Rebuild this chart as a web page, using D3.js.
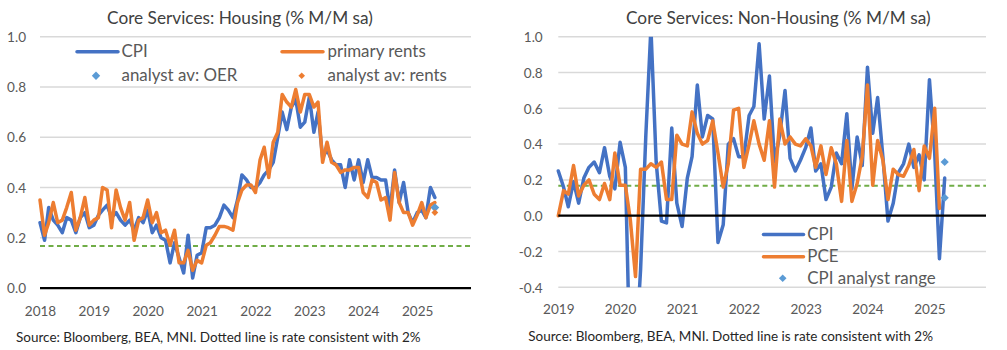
<!DOCTYPE html>
<html><head><meta charset="utf-8">
<script src="https://cdn.jsdelivr.net/npm/d3@7"></script>
<style>body{margin:0;background:#fff}svg{display:block}</style>
</head><body><svg id="c" width="1007" height="350"></svg>
<script>
// ---------- DATA ----------
const housingStart = "2018-01";
const housingCPI = [
  0.26,0.19,0.32,0.27,0.25,0.22,0.28,0.27,0.22,0.28,0.30,0.24,
  0.25,0.29,0.31,0.33,0.28,0.30,0.27,0.25,0.27,0.23,0.28,0.26,
  0.31,0.22,0.25,0.20,0.19,0.10,0.18,0.12,0.06,0.21,0.04,0.13,
  0.14,0.24,0.24,0.25,0.28,0.33,0.31,0.28,0.35,0.45,0.43,0.40,
  0.40,0.42,0.45,0.47,0.50,0.60,0.70,0.63,0.72,0.75,0.64,0.66,
  0.76,0.62,0.70,0.52,0.55,0.51,0.49,0.49,0.40,0.51,0.43,0.51,
  0.42,0.51,0.44,0.44,0.43,0.43,0.31,0.47,0.34,0.42,0.30,0.26,
  0.30,0.31,0.28,0.40,0.36];
const housingRents = [
  0.35,0.21,0.26,0.34,0.26,0.27,0.32,0.38,0.23,0.28,0.36,0.25,
  0.27,0.28,0.40,0.39,0.24,0.39,0.32,0.27,0.34,0.19,0.27,0.28,
  0.35,0.26,0.30,0.22,0.23,0.17,0.23,0.10,0.10,0.15,0.07,0.11,
  0.10,0.17,0.18,0.21,0.245,0.245,0.24,0.23,0.34,0.39,0.41,0.41,
  0.38,0.51,0.56,0.44,0.58,0.62,0.77,0.74,0.72,0.79,0.70,0.77,
  0.77,0.72,0.74,0.50,0.58,0.50,0.49,0.46,0.47,0.47,0.48,0.48,
  0.38,0.36,0.43,0.42,0.35,0.36,0.27,0.46,0.34,0.30,0.30,0.25,
  0.29,0.34,0.28,0.33,0.34];
const housingAnalystMonth = "2025-05";
const analystOER = [0.32];
const analystRents = [0.30];

const nonHousingStart = "2019-01";
const nonHousingCPI = [
  0.25,0.16,0.05,0.19,0.07,0.21,0.27,0.30,0.24,0.38,0.22,0.15,
  0.41,0.27,-0.90,-0.80,-0.30,0.45,1.05,0.30,-0.03,-0.04,0.49,0.07,
  -0.06,0.21,0.33,0.73,0.44,0.56,0.54,-0.15,-0.05,0.40,0.43,0.33,
  0.33,0.56,0.61,0.96,0.54,0.78,0.30,0.45,0.70,0.32,0.25,0.31,
  0.38,0.49,0.25,0.29,0.09,0.16,0.35,0.29,0.57,0.15,0.44,0.28,
  0.83,0.46,0.66,0.33,-0.03,0.07,0.24,0.29,0.40,0.27,0.34,0.20,
  0.76,0.35,-0.24,0.21];
const nonHousingPCE = [
  0.00,0.14,0.12,0.28,0.11,0.17,0.20,0.12,0.09,0.18,0.09,0.35,
  0.17,0.17,-0.02,-0.34,0.26,0.26,0.29,0.27,0.30,0.09,0.09,0.45,
  0.40,0.39,0.58,0.46,0.40,0.42,0.53,0.35,0.16,0.29,0.59,0.60,
  0.27,0.40,0.53,0.40,0.31,0.53,0.16,0.54,0.40,0.44,0.40,0.39,
  0.43,0.39,0.27,0.39,0.23,0.38,0.29,0.08,0.42,0.08,0.18,0.33,
  0.73,0.17,0.42,0.31,0.09,0.26,0.23,0.22,0.28,0.37,0.14,0.39,
  0.32,0.60,0.04];
const nonHousingAnalystMonth = "2025-04";
const analystRangeCPI = [0.30, 0.10];

const targetRate = 0.1667; // rate consistent with 2%
const housingYTicks = [0, 0.2, 0.4, 0.6, 0.8, 1.0];
const housingYLabels = ["0.0","0.2","0.4","0.6","0.8","1.0"];
const nonHousingYTicks = [-0.4,-0.2,0,0.2,0.4,0.6,0.8,1.0];
const nonHousingYLabels = ["-0.4","-0.2","0.0","0.2","0.4","0.6","0.8","1.0"];
const housingYears = [2018,2019,2020,2021,2022,2023,2024,2025];
const nonHousingYears = [2019,2020,2021,2022,2023,2024,2025];

const titleHousing = "Core Services: Housing (% M/M sa)";
const titleNonHousing = "Core Services: Non-Housing (% M/M sa)";
const sourceText = "Source: Bloomberg, BEA, MNI. Dotted line is rate consistent with 2%";

// ---------- HELPERS ----------
const svg = d3.select("#c");
svg.append("rect").attr("width",1007).attr("height",350).attr("fill","#fff");
const FONT = "Lato, 'Open Sans', sans-serif";
const BLUE = "#4472C4", ORANGE = "#ED7D31", LBLUE = "#5B9BD5", GREEN = "#70AD47";
const parseM = d3.timeParse("%Y-%m");
function monthSeries(start, vals){
  const s = parseM(start);
  return vals.map((v,i)=>({date:d3.timeMonth.offset(s,i), v}));
}
function sizeFor(str, target, base=16){
  const t = svg.append("text").attr("font-family",FONT).attr("font-size",base).text(str);
  const w = t.node().getComputedTextLength(); t.remove();
  return base*target/w;
}
const diamond = r => `M0,${-r}L${r},0L0,${r}L${-r},0Z`;
const titleSize = sizeFor(titleHousing, 266);
const tickSize = sizeFor("2018", 31.5);
const legendSize = sizeFor("analyst av: OER", 116);
const sourceSize = sizeFor(sourceText, 405);

function panel(cfg){
  const g = svg.append("g");
  const x = d3.scaleTime().domain(cfg.xDomain).range([cfg.x0, cfg.x1]);
  const y = d3.scaleLinear().domain(cfg.yDomain).range([cfg.yBottom, cfg.yTop]);

  // gridlines
  g.append("g").selectAll("line").data(cfg.yTicks.filter(d=>d!==0)).join("line")
    .attr("x1",cfg.x0).attr("x2",cfg.x1).attr("y1",d=>y(d)).attr("y2",d=>y(d))
    .attr("stroke","#d9d9d9").attr("stroke-width",1.5);

  // y axis
  const ya = g.append("g").attr("transform",`translate(${cfg.x0},0)`)
    .call(d3.axisLeft(y).tickValues(cfg.yTicks).tickFormat((d,i)=>cfg.yLabels[i]).tickSize(0).tickPadding(cfg.yPad));
  ya.select(".domain").remove();
  ya.selectAll("text").attr("font-family",FONT).attr("font-size",tickSize).attr("fill","#595959").attr("dy","0.35em");

  // x axis labels
  const xa = g.append("g").attr("transform",`translate(0,${y(0)})`)
    .call(d3.axisBottom(x).tickValues(cfg.years.map(yr=>new Date(yr,0,1))).tickFormat(d3.timeFormat("%Y")).tickSize(0));
  xa.select(".domain").remove();
  xa.selectAll("text").attr("font-family",FONT).attr("font-size",tickSize).attr("fill","#595959")
    .attr("y", cfg.xLabelBase - y(0)).attr("dy",0);

  // target dashed line
  g.append("line").attr("x1",cfg.x0).attr("x2",cfg.x1).attr("y1",y(targetRate)).attr("y2",y(targetRate))
    .attr("stroke",GREEN).attr("stroke-width",2).attr("stroke-dasharray","5,3.5");

  // clip
  const cid = "clip"+cfg.id;
  svg.append("clipPath").attr("id",cid).append("rect")
    .attr("x",cfg.x0-5).attr("y",cfg.yTop).attr("width",cfg.x1-cfg.x0+10).attr("height",cfg.yBottom-cfg.yTop);
  const line = d3.line().x(d=>x(d.date)).y(d=>y(d.v));
  const lg = g.append("g").attr("clip-path",`url(#${cid})`);
  cfg.series.forEach(s=>{
    lg.append("path").datum(s.data).attr("d",line).attr("fill","none").attr("stroke",s.color)
      .attr("stroke-width",3.5).attr("stroke-linejoin","round").attr("stroke-linecap","round");
  });

  // zero line
  g.append("line").attr("x1",cfg.x0).attr("x2",cfg.x1).attr("y1",y(0)).attr("y2",y(0))
    .attr("stroke","#000").attr("stroke-width",2.25);

  // markers
  cfg.markers.forEach(m=>{
    g.append("g").selectAll("path").data(m.data).join("path")
      .attr("d",diamond(m.r)).attr("fill",m.color)
      .attr("transform",d=>`translate(${x(d.date)},${y(d.v)})`);
  });

  // title
  g.append("text").attr("x",cfg.titleX).attr("y",24).attr("text-anchor","middle")
    .attr("font-family",FONT).attr("font-size",titleSize).attr("fill","#404040").text(cfg.title);
  // source
  g.append("text").attr("x",cfg.sourceX).attr("y",cfg.sourceY)
    .attr("font-family",FONT).attr("font-size",sourceSize).attr("fill","#262626").text(sourceText);

  // legend
  const leg = g.append("g");
  cfg.legend.forEach(it=>{
    if(it.type==="line"){
      leg.append("line").attr("x1",it.lx0).attr("x2",it.lx1).attr("y1",it.cy).attr("y2",it.cy)
        .attr("stroke",it.color).attr("stroke-width",3.5).attr("stroke-linecap","round");
    } else {
      leg.append("path").attr("d",diamond(it.r)).attr("fill",it.color)
        .attr("transform",`translate(${it.mx},${it.cy})`);
    }
    leg.append("text").attr("x",it.tx).attr("y",it.cy+5.6).attr("font-family",FONT)
      .attr("font-size",legendSize).attr("fill","#595959").text(it.label);
  });
}

// ---------- LEFT PANEL ----------
const hA = parseM(housingAnalystMonth);
panel({
  id:"L", x0:40, x1:471, yTop:36.7, yBottom:288, yPad:14, xLabelBase:316,
  xDomain:[new Date(2018,0,1), new Date(2026,0,1)], yDomain:[0,1],
  yTicks:housingYTicks, yLabels:housingYLabels, years:housingYears,
  title:titleHousing, titleX:240, sourceX:16, sourceY:342,
  series:[{data:monthSeries(housingStart,housingCPI),color:BLUE},
          {data:monthSeries(housingStart,housingRents),color:ORANGE}],
  markers:[{data:analystOER.map(v=>({date:hA,v})),color:LBLUE,r:4.4},
           {data:analystRents.map(v=>({date:hA,v})),color:ORANGE,r:3.4}],
  legend:[
    {type:"line",label:"CPI",color:BLUE,lx0:77,lx1:118,cy:51.7,tx:121.5},
    {type:"line",label:"primary rents",color:ORANGE,lx0:282,lx1:323,cy:51.7,tx:327.5},
    {type:"marker",label:"analyst av: OER",color:LBLUE,r:4.2,mx:96,cy:75.7,tx:121.5},
    {type:"marker",label:"analyst av: rents",color:ORANGE,r:3.3,mx:301.7,cy:75.7,tx:327.5}
  ]
});

// ---------- RIGHT PANEL ----------
const nA = parseM(nonHousingAnalystMonth);
panel({
  id:"R", x0:558.3, x1:986, yTop:36.7, yBottom:287.3, yPad:15.6, xLabelBase:314.3,
  xDomain:[new Date(2019,0,1), new Date(2025,11,1)], yDomain:[-0.4,1.0],
  yTicks:nonHousingYTicks, yLabels:nonHousingYLabels, years:nonHousingYears,
  title:titleNonHousing, titleX:778.3, sourceX:528.3, sourceY:341.3,
  series:[{data:monthSeries(nonHousingStart,nonHousingCPI),color:BLUE},
          {data:monthSeries(nonHousingStart,nonHousingPCE),color:ORANGE}],
  markers:[{data:analystRangeCPI.map(v=>({date:nA,v})),color:LBLUE,r:4.1}],
  legend:[
    {type:"line",label:"CPI",color:BLUE,lx0:763.5,lx1:803.5,cy:234.5,tx:807.3},
    {type:"line",label:"PCE",color:ORANGE,lx0:763.5,lx1:803.5,cy:256.7,tx:807.3},
    {type:"marker",label:"CPI analyst range",color:LBLUE,r:3.8,mx:782.7,cy:278.3,tx:807.3}
  ]
});
</script></body></html>
